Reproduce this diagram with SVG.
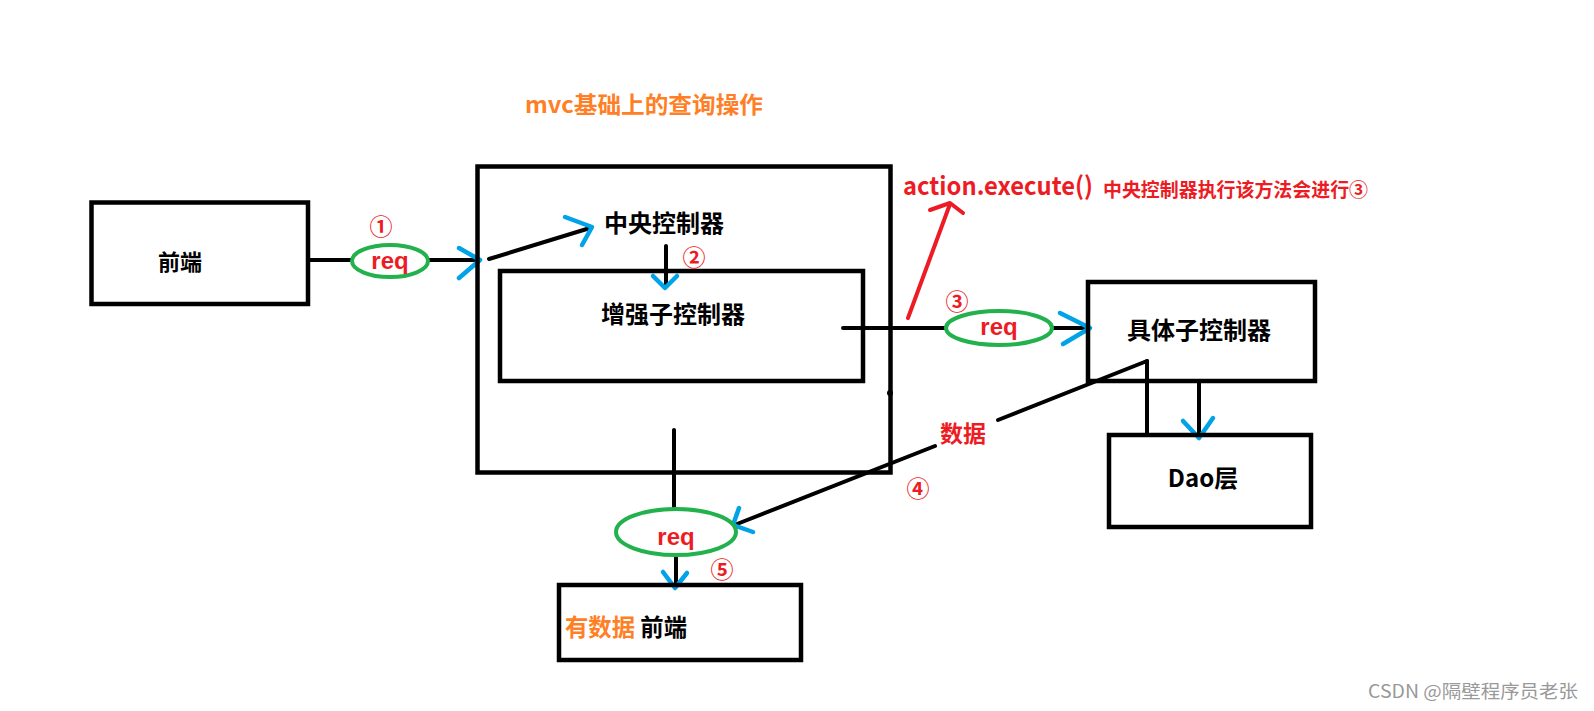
<svg xmlns="http://www.w3.org/2000/svg" width="1594" height="711" viewBox="0 0 1594 711">
<style>
.box{fill:none;stroke:#000;stroke-width:4.5}
.ln{fill:none;stroke:#000;stroke-width:4;stroke-linecap:round}
.blue{fill:none;stroke:#00a2e8;stroke-width:4.5;stroke-linecap:round;stroke-linejoin:round}
.redl{fill:none;stroke:#ed1c24;stroke-width:4;stroke-linecap:round;stroke-linejoin:round}
.ell{fill:#fff;stroke:#22b14c;stroke-width:4}
.t{font-family:"Noto Sans CJK SC","Liberation Sans",sans-serif;font-weight:bold;fill:#000}
.r{fill:#ed1c24}
.o{fill:#ff7f27}
.req{font-family:"Liberation Sans","Noto Sans CJK SC",sans-serif;font-weight:bold;font-size:24px;fill:#ed1c24;text-anchor:middle}
.num{font-family:"Noto Sans CJK SC","DejaVu Sans",sans-serif;font-weight:bold;font-size:23px;fill:#ed1c24;text-anchor:middle}
</style>
<rect width="1594" height="711" fill="#fff"/>
<text class="t o" x="525" y="113" font-size="23" textLength="238" lengthAdjust="spacingAndGlyphs">mvc基础上的查询操作</text>
<g id="connectors">
<line class="ln" x1="310" y1="260" x2="352" y2="260"/>
<line class="ln" x1="428" y1="260" x2="478" y2="260"/>
<polyline class="blue" points="459,248 480,260 459,278"/>
<line class="ln" x1="489" y1="259" x2="590" y2="228"/>
<polyline class="blue" points="565,217 592,227 582,245"/>
<line class="ln" x1="666" y1="246" x2="666" y2="286"/>
<polyline class="blue" points="653,276 665,288 677,276"/>
<line class="ln" x1="843" y1="328" x2="947" y2="328"/>
<line class="ln" x1="1051" y1="328" x2="1089" y2="328"/>
<polyline class="blue" points="1060,313 1090,328 1063,344"/>
<line class="redl" x1="908" y1="318" x2="950" y2="204"/>
<polyline class="redl" points="930,210 950,203 963,213"/>
<line class="ln" x1="1199" y1="383" x2="1199" y2="436"/>
<polyline class="blue" points="1183,421 1199,438 1213,418"/>
<line class="ln" x1="1147" y1="361" x2="1147" y2="433"/>
<line class="ln" x1="1147" y1="361" x2="998" y2="420"/>
<line class="ln" x1="935" y1="446" x2="737" y2="524"/>
<polyline class="blue" points="739,508 733,525 753,532"/>
<line class="ln" x1="674" y1="430" x2="674" y2="509"/>
<line class="ln" x1="676" y1="556" x2="676" y2="586"/>
<polyline class="blue" points="663,572 675,588 687,573"/>
</g>
<g id="frontend">
<rect class="box" x="91.5" y="202.5" width="216.5" height="101.5"/>
<text class="t" x="180" y="270" font-size="22" text-anchor="middle">前端</text>
</g>
<g id="central">
<rect class="box" x="477.5" y="166.5" width="413" height="306" stroke-width="5"/>
<circle cx="890" cy="393" r="3" fill="#000"/>
<text class="t" x="664" y="232" font-size="24" text-anchor="middle">中央控制器</text>
</g>
<g id="enhanced">
<rect class="box" x="500" y="271" width="363" height="110"/>
<text class="t" x="673" y="323" font-size="24" text-anchor="middle">增强子控制器</text>
</g>
<g id="concrete">
<rect class="box" x="1088" y="282" width="227" height="99"/>
<text class="t" x="1199" y="339" font-size="24" text-anchor="middle">具体子控制器</text>
</g>
<g id="dao">
<rect class="box" x="1109" y="435" width="202" height="92"/>
<text class="t" x="1203" y="487" font-size="24" text-anchor="middle">Dao层</text>
</g>
<g id="result">
<rect class="box" x="559" y="585" width="242" height="75"/>
<text class="t" x="565" y="636" font-size="24" textLength="122" lengthAdjust="spacingAndGlyphs"><tspan class="o">有数据</tspan> 前端</text>
</g>
<g id="req1">
<ellipse class="ell" cx="390" cy="261" rx="38" ry="16"/>
<text class="req" x="390" y="269">req</text>
</g>
<g id="req3">
<ellipse class="ell" cx="999" cy="328" rx="53" ry="17"/>
<text class="req" x="999" y="335">req</text>
</g>
<g id="req5">
<ellipse class="ell" cx="676" cy="532" rx="60" ry="23"/>
<text class="req" x="676" y="545">req</text>
</g>
<g id="labels">
<text class="num" x="381" y="235">①</text>
<text class="num" x="694" y="266">②</text>
<text class="num" x="957" y="310">③</text>
<text class="num" x="918" y="497">④</text>
<text class="num" x="722" y="578">⑤</text>
<text class="t r" x="963" y="442" font-size="23" text-anchor="middle">数据</text>
<text class="t r" x="903" y="195" font-size="25" textLength="190" lengthAdjust="spacingAndGlyphs">action.execute()</text>
<text class="t r" x="1103" y="197" font-size="19" textLength="265" lengthAdjust="spacingAndGlyphs">中央控制器执行该方法会进行③</text>
</g>
<text x="1368" y="698" font-family="'Noto Sans CJK SC','Liberation Sans',sans-serif" font-size="18" fill="#999" textLength="210" lengthAdjust="spacingAndGlyphs">CSDN @隔壁程序员老张</text>
</svg>
